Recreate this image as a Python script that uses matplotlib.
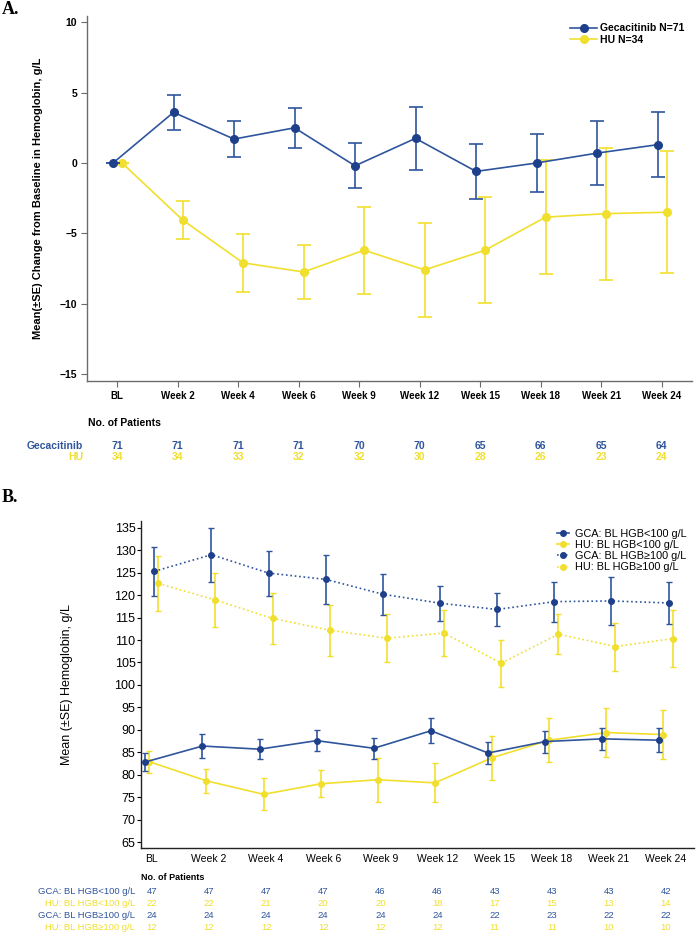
import matplotlib
matplotlib.use('Agg')
import matplotlib.pyplot as plt
import matplotlib.transforms as mtransforms
from matplotlib.lines import Line2D
import numpy as np

plt.rcParams['font.family'] = ['Liberation Sans', 'DejaVu Sans']

weeks = ['BL', 'Week 2', 'Week 4', 'Week 6', 'Week 9', 'Week 12',
         'Week 15', 'Week 18', 'Week 21', 'Week 24']

# panel A: change from baseline
gec_mean = [0.0, 3.6, 1.7, 2.5, -0.2, 1.75, -0.6, 0.0, 0.7, 1.3]
gec_se = [0.0, 1.25, 1.3, 1.4, 1.6, 2.25, 1.95, 2.05, 2.3, 2.3]
hu_mean = [0.0, -4.05, -7.1, -7.75, -6.2, -7.6, -6.2, -3.85, -3.6, -3.5]
hu_se = [0.0, 1.38, 2.08, 1.9, 3.08, 3.35, 3.78, 4.05, 4.7, 4.33]
n_gec = [71, 71, 71, 71, 70, 70, 65, 66, 65, 64]
n_hu = [34, 34, 33, 32, 32, 30, 28, 26, 23, 24]

# panel B: mean hemoglobin by baseline HGB
gca_lo_mean = [82.85, 86.4, 85.7, 87.6, 85.9, 89.8, 84.85, 87.4, 88.0, 87.7]
gca_lo_se = [1.9, 2.6, 2.2, 2.35, 2.35, 2.8, 2.35, 2.45, 2.4, 2.7]
hu_lo_mean = [82.9, 78.65, 75.65, 78.0, 78.9, 78.2, 83.8, 87.7, 89.4, 88.95]
hu_lo_se = [2.5, 2.6, 3.6, 3.0, 4.9, 4.35, 4.85, 4.95, 5.4, 5.5]
gca_hi_mean = [125.3, 129.0, 124.9, 123.5, 120.2, 118.2, 116.8, 118.55, 118.7, 118.25]
gca_hi_se = [5.5, 6.0, 5.0, 5.4, 4.55, 3.9, 3.6, 4.45, 5.3, 4.7]
hu_hi_mean = [122.6, 118.9, 114.8, 112.2, 110.4, 111.55, 104.85, 111.3, 108.55, 110.3]
hu_hi_se = [6.2, 6.0, 5.6, 5.65, 5.4, 5.2, 5.2, 4.4, 5.35, 6.4]
n_gca_lo = [47, 47, 47, 47, 46, 46, 43, 43, 43, 42]
n_hu_lo = [22, 22, 21, 20, 20, 18, 17, 15, 13, 14]
n_gca_hi = [24, 24, 24, 24, 24, 24, 22, 23, 22, 22]
n_hu_hi = [12, 12, 12, 12, 12, 12, 11, 11, 10, 10]

blue = '#2F559C'
blue_dark = '#1E3F8A'
yellow = '#F1DF2E'

W, H = 700, 933
fig = plt.figure(figsize=(W / 100, H / 100), dpi=100)


def fy(y):
    return 1 - y / H


x = np.arange(len(weeks))

# ---------------- Panel A ----------------
axA = fig.add_axes([87 / W, fy(381), (692 - 87) / W, (381 - 16) / H])
axA.errorbar(x - 0.07, gec_mean, yerr=gec_se, color=blue, lw=1.2, marker='o',
             ms=5.5, mfc=blue_dark, mec=blue_dark, capsize=5, capthick=1.2,
             elinewidth=1.2, zorder=3)
axA.errorbar(x + 0.08, hu_mean, yerr=hu_se, color=yellow, lw=1.2, marker='o',
             ms=5.5, capsize=5, capthick=1.2, elinewidth=1.2, zorder=2)
axA.set_xlim(-0.5, 9.5)
axA.set_ylim(-15.5, 10.45)
axA.set_yticks([10, 5, 0, -5, -10, -15])
axA.set_xticks(x)
axA.set_xticklabels(weeks, fontsize=7, fontweight='bold')
for lab in axA.get_yticklabels():
    lab.set_fontsize(7.5)
    lab.set_fontweight('bold')
for s in ['top', 'right']:
    axA.spines[s].set_visible(False)
for s in ['left', 'bottom']:
    axA.spines[s].set_color('#6b6b6b')
    axA.spines[s].set_linewidth(1.0)
axA.tick_params(direction='out', length=4, color='#6b6b6b', pad=3)
axA.set_ylabel('Mean(\u00b1SE) Change from Baseline in Hemoglobin, g/L',
               fontsize=8, fontweight='bold', labelpad=12)
handlesA = [Line2D([], [], color=blue, lw=1.2, marker='o', ms=5.5,
                   mfc=blue_dark, mec=blue_dark),
            Line2D([], [], color=yellow, lw=1.2, marker='o', ms=5.5)]
leg = axA.legend(handlesA, ['Gecacitinib N=71', 'HU N=34'], loc='upper right',
                 bbox_to_anchor=(1.0, 1.0), frameon=False, fontsize=7.5,
                 handlelength=2.6, handletextpad=0.3, labelspacing=0.15,
                 borderaxespad=0.3)
for t in leg.get_texts():
    t.set_fontweight('bold')

fig.text(2 / W, fy(10), 'A.', fontsize=13, fontweight='bold',
         family='Liberation Serif', va='center', ha='left')

trA = mtransforms.blended_transform_factory(axA.transData, fig.transFigure)
fig.text(88 / W, fy(423), 'No. of Patients', fontsize=7.5, fontweight='bold',
         va='center', ha='left')
fig.text(83 / W, fy(446), 'Gecacitinib', fontsize=7.5, fontweight='bold',
         color=blue, va='center', ha='right')
fig.text(83 / W, fy(457), 'HU', fontsize=7.5, fontweight='bold',
         color=yellow, va='center', ha='right')
for i in range(len(weeks)):
    fig.text(x[i], fy(446), str(n_gec[i]), transform=trA, fontsize=7.5,
             fontweight='bold', color=blue, va='center', ha='center')
    fig.text(x[i], fy(457), str(n_hu[i]), transform=trA, fontsize=7.5,
             fontweight='bold', color=yellow, va='center', ha='center')

# ---------------- Panel B ----------------
axB = fig.add_axes([141 / W, fy(848), (694 - 141) / W, (848 - 521) / H])
kw = dict(marker='o', ms=4, capsize=2, capthick=1.0, elinewidth=1.2, lw=1.2)
axB.errorbar(x - 0.114, gca_lo_mean, yerr=gca_lo_se, color=blue, mfc=blue_dark,
             mec=blue_dark, ls='-', zorder=3, **kw)
axB.errorbar(x - 0.044, hu_lo_mean, yerr=hu_lo_se, color=yellow, ls='-',
             zorder=2, **kw)
axB.errorbar(x + 0.044, gca_hi_mean, yerr=gca_hi_se, color=blue, mfc=blue_dark,
             mec=blue_dark, ls=':', zorder=3, **kw)
axB.errorbar(x + 0.114, hu_hi_mean, yerr=hu_hi_se, color=yellow, ls=':',
             zorder=2, **kw)
axB.set_xlim(-0.19, 9.49)
axB.set_ylim(63.7, 136.5)
axB.set_yticks(np.arange(65, 136, 5))
axB.set_xticks(x)
axB.set_xticklabels(weeks, fontsize=7.5)
axB.tick_params(axis='x', length=0, pad=4)
axB.tick_params(axis='y', direction='out', length=3, labelsize=9, pad=1)
for s in ['top', 'right']:
    axB.spines[s].set_visible(False)
for s in ['left', 'bottom']:
    axB.spines[s].set_color('#222222')
    axB.spines[s].set_linewidth(1.0)
axB.set_ylabel('Mean (\u00b1SE) Hemoglobin, g/L', fontsize=9, labelpad=30)
handlesB = [Line2D([], [], color=blue, lw=1.2, ls='-', marker='o', ms=4,
                   mfc=blue_dark, mec=blue_dark),
            Line2D([], [], color=yellow, lw=1.2, ls='-', marker='o', ms=4),
            Line2D([], [], color=blue, lw=1.2, ls=':', marker='o', ms=4,
                   mfc=blue_dark, mec=blue_dark),
            Line2D([], [], color=yellow, lw=1.2, ls=':', marker='o', ms=4)]
axB.legend(handlesB, ['GCA: BL HGB<100 g/L', 'HU: BL HGB<100 g/L',
                      'GCA: BL HGB\u2265100 g/L', 'HU: BL HGB\u2265100 g/L'],
           loc='upper right', bbox_to_anchor=(1.0, 1.0), frameon=False,
           fontsize=7.8, handlelength=1.1, handletextpad=0.5,
           labelspacing=0.12, borderaxespad=0.3)

fig.text(2 / W, fy(497), 'B.', fontsize=13, fontweight='bold',
         family='Liberation Serif', va='center', ha='left')

trB = mtransforms.blended_transform_factory(axB.transData, fig.transFigure)
fig.text(141 / W, fy(877), 'No. of Patients', fontsize=6.5, fontweight='bold',
         va='center', ha='left')
rows = [('GCA: BL HGB<100 g/L', n_gca_lo, blue, 892),
        ('HU: BL HGB<100 g/L', n_hu_lo, yellow, 903),
        ('GCA: BL HGB\u2265100 g/L', n_gca_hi, blue, 915),
        ('HU: BL HGB\u2265100 g/L', n_hu_hi, yellow, 927)]
for name, vals, col, yy in rows:
    fig.text(135 / W, fy(yy), name, fontsize=6.8, color=col,
             va='center', ha='right')
    for i in range(len(weeks)):
        fig.text(x[i], fy(yy), str(vals[i]), transform=trB, fontsize=6.8,
                 color=col, va='center', ha='center')

fig.savefig('out.png', dpi=100)
